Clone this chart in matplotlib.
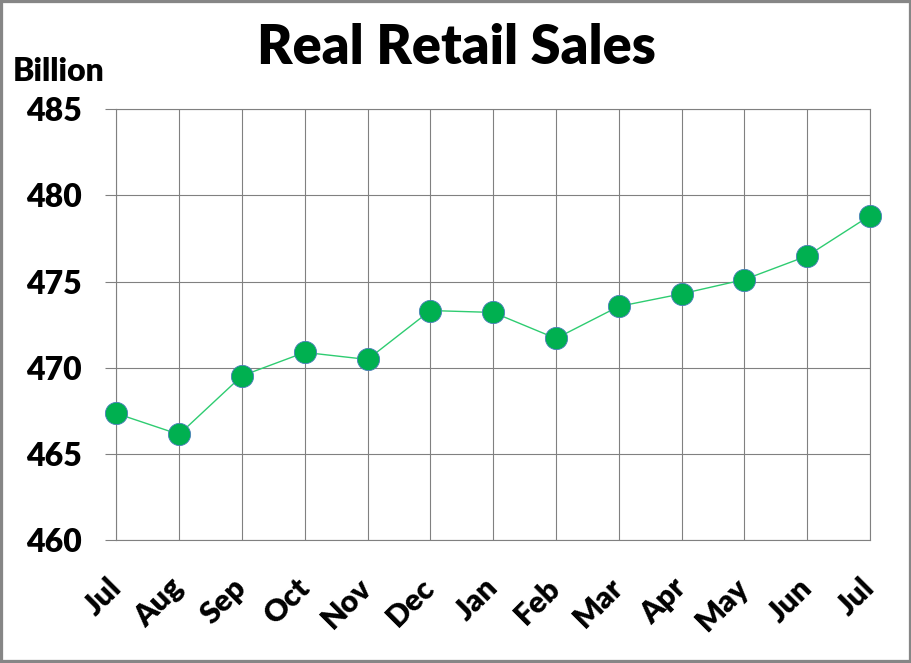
import matplotlib.pyplot as plt
from matplotlib.patches import Rectangle

# Data
months = ['Jul', 'Aug', 'Sep', 'Oct', 'Nov', 'Dec', 'Jan',
          'Feb', 'Mar', 'Apr', 'May', 'Jun', 'Jul']
sales = [467.35, 466.13, 469.53, 470.89, 470.48, 473.32, 473.21,
         471.70, 473.56, 474.29, 475.12, 476.49, 478.83]
yticks = [460, 465, 470, 475, 480, 485]

plt.rcParams['font.family'] = ['Lato', 'DejaVu Sans']
grid_col = '#808080'

fig = plt.figure(figsize=(9.12, 6.63), dpi=100)
ax = fig.add_axes([0.1275, 0.1855, 0.8265, 0.6496])

x = list(range(len(months)))
ax.plot(x, sales, color='#2ECC71', lw=1.0, zorder=3, clip_on=False)
ax.plot(x, sales, ls='none', marker='o', markersize=16,
        markerfacecolor='#00B050', markeredgecolor='#4A7EBB',
        markeredgewidth=0.6, zorder=4, clip_on=False)

ax.set_xlim(0, len(months) - 1)
ax.set_ylim(460, 485)
ax.set_yticks(yticks)
ax.set_yticklabels([str(v) for v in yticks], fontsize=23, fontweight='heavy')
ax.set_xticks(x)
ax.set_xticklabels(months, fontsize=22, fontweight='heavy', rotation=45,
                   ha='right', va='center', rotation_mode='anchor')

ax.grid(True, color=grid_col, lw=0.8)
ax.set_axisbelow(True)
for s in ax.spines.values():
    s.set_color(grid_col)
    s.set_linewidth(0.8)
ax.tick_params(axis='y', length=8, width=0.8, color=grid_col, pad=17)
ax.tick_params(axis='x', length=0, pad=31)

fig.text(0.5, 0.927, 'Real Retail Sales', ha='center', va='center',
         fontsize=39, fontweight='heavy')
fig.text(0.014, 0.892, 'Billion', ha='left', va='center',
         fontsize=23, fontweight='heavy')

# outer chart border
fig.patches.append(Rectangle((0, 0), 1, 1, transform=fig.transFigure,
                             fill=False, edgecolor='#868686', lw=4.5))

fig.savefig('out.png', dpi=100)
